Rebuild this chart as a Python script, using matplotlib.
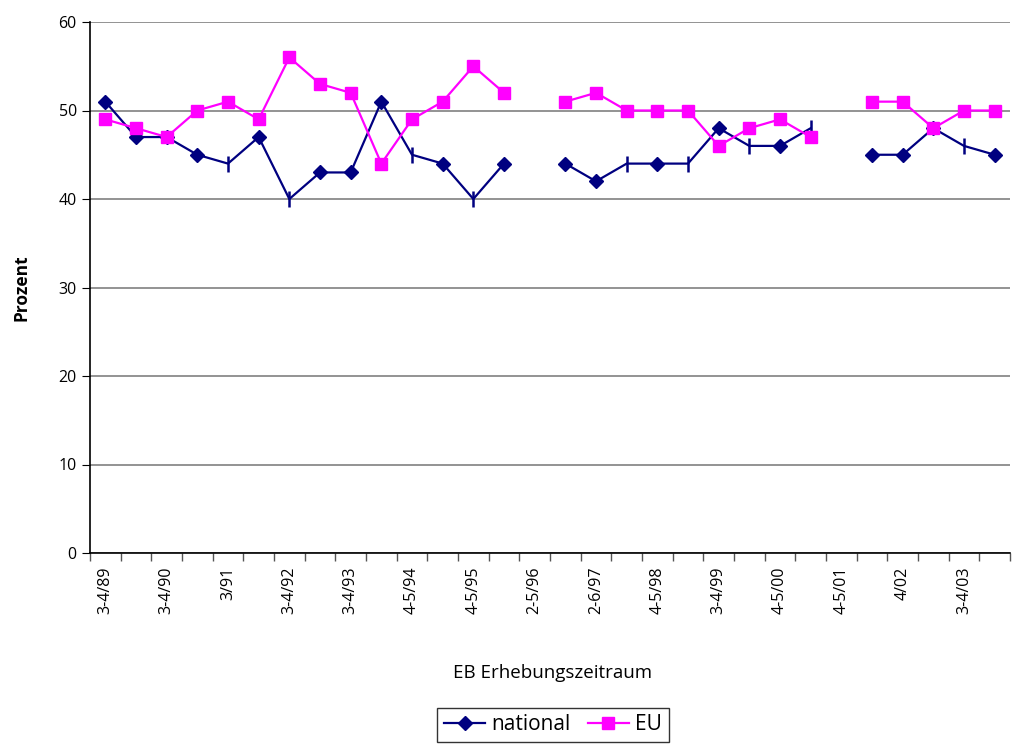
import matplotlib.pyplot as plt
import numpy as np

plt.rcParams["font.family"] = ["Open Sans", "DejaVu Sans"]

# EB survey periods (only every other one is labelled on the axis)
periods = [
    "3-4/89", "", "3-4/90", "", "3/91", "", "3-4/92", "", "3-4/93", "",
    "4-5/94", "", "4-5/95", "", "2-5/96", "", "2-6/97", "", "4-5/98", "",
    "3-4/99", "", "4-5/00", "", "4-5/01", "", "4/02", "", "3-4/03", "",
]
national = [
    51, 47, 47, 45, 44, 47, 40, 43, 43, 51,
    45, 44, 40, 44, np.nan, 44, 42, 44, 44, 44,
    48, 46, 46, 48, np.nan, 45, 45, 48, 46, 45,
]
eu = [
    49, 48, 47, 50, 51, 49, 56, 53, 52, 44,
    49, 51, 55, 52, np.nan, 51, 52, 50, 50, 50,
    46, 48, 49, 47, np.nan, 51, 51, 48, 50, 50,
]
# points of the national series drawn as a thin tick instead of a diamond
tick_points = [4, 6, 10, 12, 17, 19, 21, 23, 28]

navy = "#000080"
magenta = "#FF00FF"

fig = plt.figure(figsize=(10.13, 7.44), dpi=100)
ax = fig.add_axes([90 / 1013, 1 - 553 / 744, 920 / 1013, 531 / 744])

x = np.arange(len(periods))
nat = np.array(national)
diam = [i for i in x if i not in tick_points and not np.isnan(nat[i])]

ax.plot(x, nat, color=navy, lw=1.6, zorder=3)
ax.plot(x[diam], nat[diam], ls="none", marker="D", markersize=7,
        color=navy, zorder=3)
ax.plot(x[tick_points], nat[tick_points], ls="none", marker="|",
        markersize=11, markeredgewidth=1.8, color=navy, zorder=3)
ax.plot(x, eu, color=magenta, lw=1.6, marker="s", markersize=9, zorder=4)

ax.set_xlim(-0.5, len(periods) - 0.5)
ax.set_ylim(0, 60)
ax.set_yticks(range(0, 61, 10))
ax.yaxis.grid(True, color="#808080", lw=1.2)
ax.set_axisbelow(True)

ax.set_xticks(x[::2])
ax.set_xticklabels(periods[::2], rotation=90)
ax.set_xticks(np.arange(-0.5, len(periods), 1), minor=True)
ax.tick_params(axis="x", which="major", length=0, pad=10, labelsize=11.5)
ax.tick_params(axis="x", which="minor", length=6, width=1, color="#555555")
ax.tick_params(axis="y", length=6, labelsize=11.5)

for s in ["top", "right"]:
    ax.spines[s].set_visible(False)
ax.spines["left"].set_linewidth(1.2)
ax.spines["bottom"].set_linewidth(1.2)

ax.set_ylabel("Prozent", fontsize=12.5, fontweight="bold", labelpad=20)
fig.text(553 / 1013, 1 - 673 / 744, "EB Erhebungszeitraum", ha="center",
         va="center", fontsize=13.5)

h1 = plt.Line2D([], [], color=navy, lw=1.6, marker="D", markersize=7)
h2 = plt.Line2D([], [], color=magenta, lw=1.6, marker="s", markersize=9)
leg = fig.legend([h1, h2], ["national", "EU"], loc="upper center",
                 bbox_to_anchor=(553 / 1013, 1 - 708 / 744), ncol=2,
                 fontsize=15, frameon=True, fancybox=False, edgecolor="black",
                 handlelength=2.0, columnspacing=0.8, handletextpad=0.3,
                 borderpad=0.3, borderaxespad=0)
leg.get_frame().set_linewidth(1.0)

fig.savefig("out.png", dpi=100)
